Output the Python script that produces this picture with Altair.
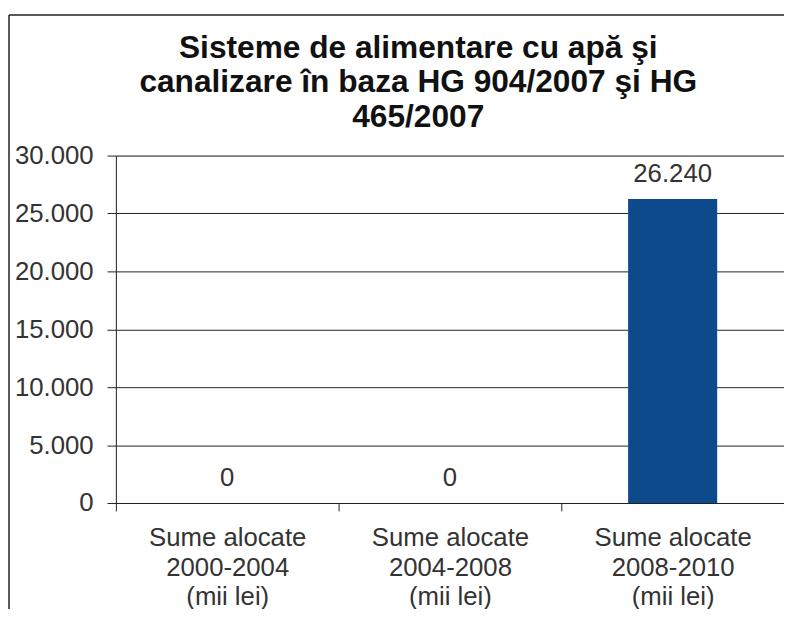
import altair as alt
import pandas as pd

categories = [
    "Sume alocate\n2000-2004\n(mii lei)",
    "Sume alocate\n2004-2008\n(mii lei)",
    "Sume alocate\n2008-2010\n(mii lei)",
]
values = [0, 0, 26240]
y_ticks = [0, 5000, 10000, 15000, 20000, 25000, 30000]
title_lines = [
    "Sisteme de alimentare cu apă şi",
    "canalizare în baza HG 904/2007 şi HG",
    "465/2007",
]

df = pd.DataFrame({"cat": categories, "val": values})

W, H = 675, 351
FONT = "Liberation Sans"

x_enc = alt.X(
    "cat:N",
    sort=categories,
    title=None,
    scale=alt.Scale(paddingInner=0, paddingOuter=0),
    axis=alt.Axis(
        labelExpr="split(datum.label, '\\n')",
        labelAngle=0,
        labelFont=FONT,
        labelFontSize=26,
        labelLineHeight=30,
        labelColor="#333333",
        labelPadding=14,
        tickBand="extent",
        tickSize=8,
        tickColor="#222222",
        domainColor="#222222",
        grid=False,
    ),
)
y_enc = alt.Y(
    "val:Q",
    title=None,
    scale=alt.Scale(domain=[0, 30000], nice=False),
    axis=alt.Axis(
        values=y_ticks,
        labelExpr="replace(format(datum.value, ',d'), ',', '.')",
        labelFont=FONT,
        labelFontSize=26,
        labelColor="#333333",
        labelPadding=14,
        tickSize=9,
        tickColor="#222222",
        domainColor="#222222",
        gridColor="#222222",
        gridOpacity=1,
        gridWidth=1,
    ),
)

base = alt.Chart(df)

bars = base.mark_bar(
    width=alt.RelativeBandSize(0.4),
    color="#0d4a8c",
).encode(x=x_enc, y=y_enc)

labels = base.transform_calculate(
    lbl="replace(format(datum.val, ',d'), ',', '.')"
).mark_text(
    baseline="alphabetic",
    dy=-17,
    font=FONT,
    fontSize=26,
    color="#333333",
).encode(x=alt.X("cat:N", sort=categories), y="val:Q", text="lbl:N")

one = pd.DataFrame({"a": [0]})
frame_left = alt.Chart(one).mark_rule(color="#222222", strokeWidth=1.5).encode(
    x=alt.value(-108), y=alt.value(-142), y2=alt.value(H + 200),
)
frame_top = alt.Chart(one).mark_rule(color="#222222", strokeWidth=1.5).encode(
    x=alt.value(-108), x2=alt.value(W + 100), y=alt.value(-142),
)

chart = alt.layer(frame_left, frame_top, bars, labels).properties(
    width=W,
    height=H,
    title=alt.TitleParams(
        text=title_lines,
        font=FONT,
        fontSize=32,
        fontWeight="bold",
        color="#111111",
        lineHeight=35,
        anchor="middle",
        frame="group",
        dx=-32,
        offset=-121,
        zindex=1,
    ),
    autosize=alt.AutoSizeParams(type="none"),
    padding={"left": 109, "top": 146, "right": 0, "bottom": 104},
).configure_view(stroke=None).configure(background="white")

chart.save("out.html", embed_options={"renderer": "svg", "actions": False})
